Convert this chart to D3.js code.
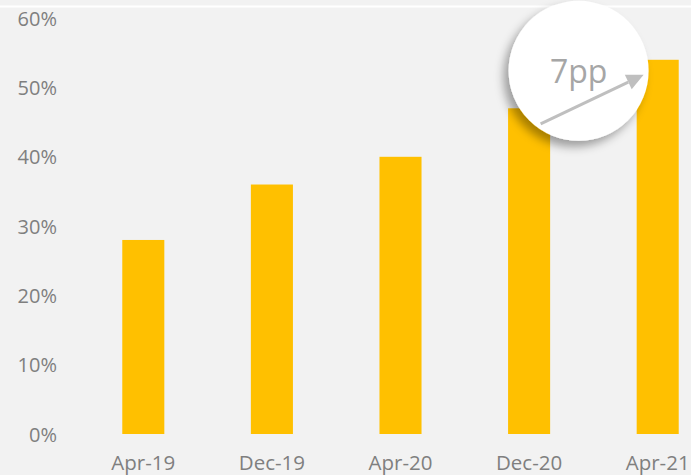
<!DOCTYPE html>
<html>
<head>
<meta charset="utf-8">
<script src="https://cdn.jsdelivr.net/npm/d3@7"></script>
<style>
  html, body { margin: 0; padding: 0; background: #f2f2f2; }
  svg { display: block; }
</style>
</head>
<body>
<svg id="chart" width="691" height="475"></svg>
<script>
const categories = ["Apr-19", "Dec-19", "Apr-20", "Dec-20", "Apr-21"];
const values = [0.28, 0.36, 0.40, 0.47, 0.54];
const yTicks = [0, 0.1, 0.2, 0.3, 0.4, 0.5, 0.6];
const annotationText = "7pp";

const W = 691, H = 475;
const svg = d3.select("#chart");

svg.append("rect").attr("width", W).attr("height", H).attr("fill", "#f2f2f2");
svg.append("line").attr("x1", 0).attr("x2", W).attr("y1", 6.5).attr("y2", 6.5)
  .attr("stroke", "#ffffff").attr("stroke-width", 2);

const x = d3.scaleBand().domain(categories).range([79, 722])
  .paddingInner(0.673).paddingOuter(0.3365);
const y = d3.scaleLinear().domain([0, 0.6]).range([434, 18.2]);

const defs = svg.append("defs");
const f = defs.append("filter").attr("id", "shadow")
  .attr("x", "-30%").attr("y", "-30%").attr("width", "160%").attr("height", "160%");
f.append("feDropShadow").attr("dx", -5).attr("dy", 6).attr("stdDeviation", 5)
  .attr("flood-color", "#000").attr("flood-opacity", 0.35);

// Y axis labels
const yAxis = d3.axisLeft(y).tickValues(yTicks).tickFormat(d3.format(".0%")).tickSize(0).tickPadding(0);
const gy = svg.append("g").attr("transform", "translate(57,0)").call(yAxis);
gy.select(".domain").remove();
gy.selectAll("text").attr("font-family", "'Open Sans', sans-serif").attr("font-size", 20)
  .attr("fill", "#7f7f7f").attr("dy", "0.35em");

// X axis labels
const xAxis = d3.axisBottom(x).tickSize(0).tickPadding(0);
const gx = svg.append("g").attr("transform", "translate(0,470)").call(xAxis);
gx.select(".domain").remove();
gx.selectAll("text").attr("font-family", "'Open Sans', sans-serif").attr("font-size", 20.5)
  .attr("fill", "#7f7f7f").attr("dy", "0");

// Bars
svg.append("g").selectAll("rect").data(values).join("rect")
  .attr("x", (d, i) => x(categories[i]))
  .attr("width", x.bandwidth())
  .attr("y", d => y(d))
  .attr("height", d => y(0) - y(d))
  .attr("fill", "#ffc000");

// Annotation circle between last two bars
const cx = x(categories[3]) + x.bandwidth() + 28.5;
const cy = y(values[4]) + 11;
const ann = svg.append("g");
ann.append("circle").attr("cx", cx).attr("cy", cy).attr("r", 70)
  .attr("fill", "#ffffff").attr("filter", "url(#shadow)");
ann.append("text").attr("x", cx).attr("y", cy + 12.5).attr("text-anchor", "middle")
  .attr("font-family", "'Open Sans', sans-serif").attr("font-size", 32)
  .attr("fill", "#a6a6a6").text(annotationText);

// Arrow
const x0 = cx - 38, y0 = cy + 53, x1 = cx + 65, y1 = cy + 4;
const ang = Math.atan2(y1 - y0, x1 - x0);
const headLen = 17, headW = 8;
const bx = x1 - headLen * Math.cos(ang), by = y1 - headLen * Math.sin(ang);
ann.append("line").attr("x1", x0).attr("y1", y0).attr("x2", bx).attr("y2", by)
  .attr("stroke", "#bfbfbf").attr("stroke-width", 3);
const px = -Math.sin(ang), py = Math.cos(ang);
ann.append("path")
  .attr("d", `M${x1},${y1} L${bx + px * headW},${by + py * headW} L${bx - px * headW},${by - py * headW} Z`)
  .attr("fill", "#bfbfbf");
</script>
</body>
</html>
